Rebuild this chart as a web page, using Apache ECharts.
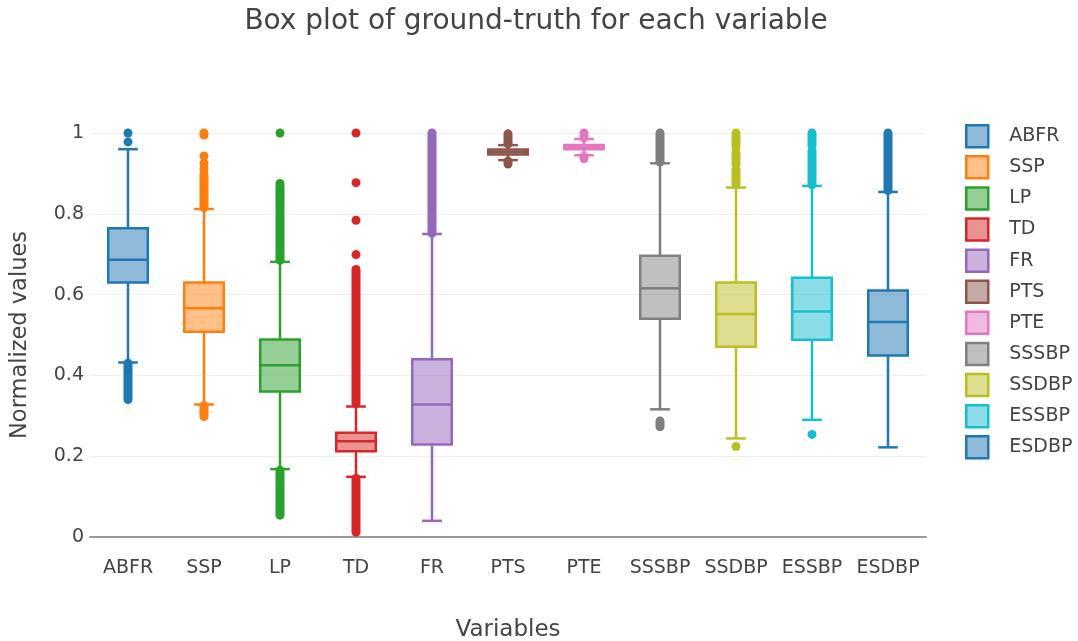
<!DOCTYPE html>
<html>
<head>
<meta charset="utf-8">
<script src="https://cdn.jsdelivr.net/npm/echarts@6/dist/echarts.min.js"></script>
<style>
  html, body { margin: 0; padding: 0; background: #fff; }
  #chart { width: 1078px; height: 641px; }
</style>
</head>
<body>
<div id="chart"></div>
<script>
// Variables (x categories)
const categories = ['ABFR', 'SSP', 'LP', 'TD', 'FR', 'PTS', 'PTE', 'SSSBP', 'SSDBP', 'ESSBP', 'ESDBP'];

// Five-number summaries per variable
const lowerWhisker = [0.432, 0.328, 0.168, 0.149, 0.040, 0.933, 0.945, 0.316, 0.244, 0.290, 0.222];
const q1Values     = [0.630, 0.508, 0.360, 0.212, 0.229, 0.947, 0.960, 0.540, 0.471, 0.488, 0.449];
const medianValues = [0.686, 0.566, 0.425, 0.237, 0.328, 0.953, 0.965, 0.616, 0.552, 0.558, 0.532];
const q3Values     = [0.764, 0.630, 0.489, 0.258, 0.440, 0.959, 0.970, 0.696, 0.630, 0.642, 0.610];
const upperWhisker = [0.960, 0.812, 0.681, 0.323, 0.750, 0.970, 0.985, 0.925, 0.865, 0.869, 0.854];

// Single outliers: [variable index, value]
const outlierPoints = [
  [0, 1.0], [0, 0.978],
  [1, 1.0], [1, 0.995], [1, 0.943], [1, 0.925], [1, 0.912],
  [2, 1.0],
  [3, 1.0], [3, 0.877], [3, 0.784], [3, 0.699],
  [8, 0.224],
  [9, 0.254]
];

// Runs of densely packed outliers: [variable index, low, high]
const outlierRuns = [
  [0, 0.340, 0.430],
  [1, 0.815, 0.900], [1, 0.298, 0.325],
  [2, 0.685, 0.875], [2, 0.054, 0.165],
  [3, 0.330, 0.662], [3, 0.012, 0.145],
  [4, 0.752, 1.000],
  [5, 0.973, 0.998], [5, 0.923, 0.930],
  [6, 0.988, 1.000], [6, 0.936, 0.942],
  [7, 0.928, 1.000], [7, 0.273, 0.287],
  [8, 0.966, 1.000], [8, 0.922, 0.953], [8, 0.872, 0.908],
  [9, 0.968, 1.000], [9, 0.872, 0.955],
  [10, 0.858, 1.000]
];

const yTicks = { min: 0, max: 1, interval: 0.2 };

const palette = ['#1f77b4', '#ff7f0e', '#2ca02c', '#d62728', '#9467bd', '#8c564b',
                 '#e377c2', '#7f7f7f', '#bcbd22', '#17becf', '#1f77b4'];

const FONT = 'DejaVu Sans';
const TEXT = '#444';
const BOX_RATIO = 0.52;
const DOT = 9;
const LW = 2.5;

function fade(hex, a) {
  const n = parseInt(hex.slice(1), 16);
  return 'rgba(' + (n >> 16 & 255) + ',' + (n >> 8 & 255) + ',' + (n & 255) + ',' + a + ')';
}

function boxRenderer(color) {
  return function (params, api) {
    const idx = api.value(0);
    const cx = api.coord([idx, 0])[0];
    const band = api.size([1, 0])[0];
    const half = band * BOX_RATIO / 2;
    const capHalf = half / 2;
    const y = (d) => api.coord([idx, api.value(d)])[1];
    const yLw = y(1), yQ1 = y(2), yMed = y(3), yQ3 = y(4), yUw = y(5);
    const line = { stroke: color, lineWidth: LW, fill: null };
    return {
      type: 'group',
      children: [
        { type: 'line', shape: { x1: cx, y1: yUw, x2: cx, y2: yQ3 }, style: line },
        { type: 'line', shape: { x1: cx, y1: yQ1, x2: cx, y2: yLw }, style: line },
        { type: 'line', shape: { x1: cx - capHalf, y1: yUw, x2: cx + capHalf, y2: yUw }, style: line },
        { type: 'line', shape: { x1: cx - capHalf, y1: yLw, x2: cx + capHalf, y2: yLw }, style: line },
        { type: 'rect', shape: { x: cx - half, y: yQ3, width: half * 2, height: yQ1 - yQ3 },
          style: { fill: fade(color, 0.5), stroke: color, lineWidth: LW } },
        { type: 'line', shape: { x1: cx - half, y1: yMed, x2: cx + half, y2: yMed }, style: line }
      ]
    };
  };
}

function runRenderer(color) {
  return function (params, api) {
    const idx = api.value(0);
    const cx = api.coord([idx, 0])[0];
    const yLo = api.coord([idx, api.value(1)])[1];
    const yHi = api.coord([idx, api.value(2)])[1];
    const r = DOT / 2;
    return {
      type: 'rect',
      shape: { x: cx - r, y: yHi - r, width: DOT, height: yLo - yHi + DOT, r: r },
      style: { fill: color }
    };
  };
}

const series = [];
categories.forEach((name, i) => {
  const color = palette[i];
  series.push({
    name: name,
    type: 'custom',
    renderItem: runRenderer(color),
    itemStyle: { color: color },
    encode: { x: 0, y: [1, 2] },
    data: outlierRuns.filter(r => r[0] === i),
    z: 2
  });
  series.push({
    name: name,
    type: 'scatter',
    symbol: 'circle',
    symbolSize: DOT,
    itemStyle: { color: color, opacity: 1 },
    data: outlierPoints.filter(p => p[0] === i),
    z: 2
  });
  series.push({
    name: name,
    type: 'custom',
    renderItem: boxRenderer(color),
    itemStyle: { color: color },
    encode: { x: 0, y: [1, 2, 3, 4, 5] },
    data: [[i, lowerWhisker[i], q1Values[i], medianValues[i], q3Values[i], upperWhisker[i]]],
    z: 3
  });
});

const chart = echarts.init(document.getElementById('chart'), null, { renderer: 'canvas' });
chart.setOption({
  animation: false,
  backgroundColor: '#fff',
  title: {
    text: 'Box plot of ground-truth for each variable',
    left: 531,
    top: 3,
    textAlign: 'center',
    textStyle: { fontFamily: FONT, fontSize: 28, fontWeight: 'normal', color: TEXT }
  },
  legend: {
    orient: 'vertical',
    left: 960,
    top: 119,
    itemWidth: 22,
    itemHeight: 22,
    itemGap: 6.6,
    icon: 'rect',
    selectedMode: false,
    textStyle: { fontFamily: FONT, fontSize: 19, lineHeight: 22, color: TEXT, padding: [0, 0, 0, 16] },
    data: categories.map((name, i) => ({
      name: name,
      icon: 'rect',
      itemStyle: { color: fade(palette[i], 0.5), borderColor: palette[i], borderWidth: 2.5 }
    }))
  },
  grid: { left: 90, right: 152, top: 133, bottom: 104, containLabel: false, outerBoundsMode: 'none' },
  xAxis: {
    type: 'category',
    data: categories,
    boundaryGap: true,
    name: 'Variables',
    nameLocation: 'middle',
    nameGap: 82,
    nameTextStyle: { fontFamily: FONT, fontSize: 23, color: TEXT },
    axisLine: { show: true, lineStyle: { color: '#999', width: 2 } },
    axisTick: { show: false },
    axisLabel: { fontFamily: FONT, fontSize: 19, color: TEXT, margin: 22, interval: 0, hideOverlap: false },
    splitLine: { show: false }
  },
  yAxis: {
    type: 'value',
    min: yTicks.min,
    max: yTicks.max,
    interval: yTicks.interval,
    name: 'Normalized values',
    nameLocation: 'middle',
    nameGap: 58,
    nameTextStyle: { fontFamily: FONT, fontSize: 22.5, color: TEXT },
    axisLine: { show: false },
    axisTick: { show: false },
    axisLabel: { fontFamily: FONT, fontSize: 19, color: TEXT, margin: 6,
                 formatter: v => String(Math.round(v * 10) / 10) },
    splitLine: { show: true, lineStyle: { color: '#eee', width: 1 } }
  },
  series: series
});
</script>
</body>
</html>
